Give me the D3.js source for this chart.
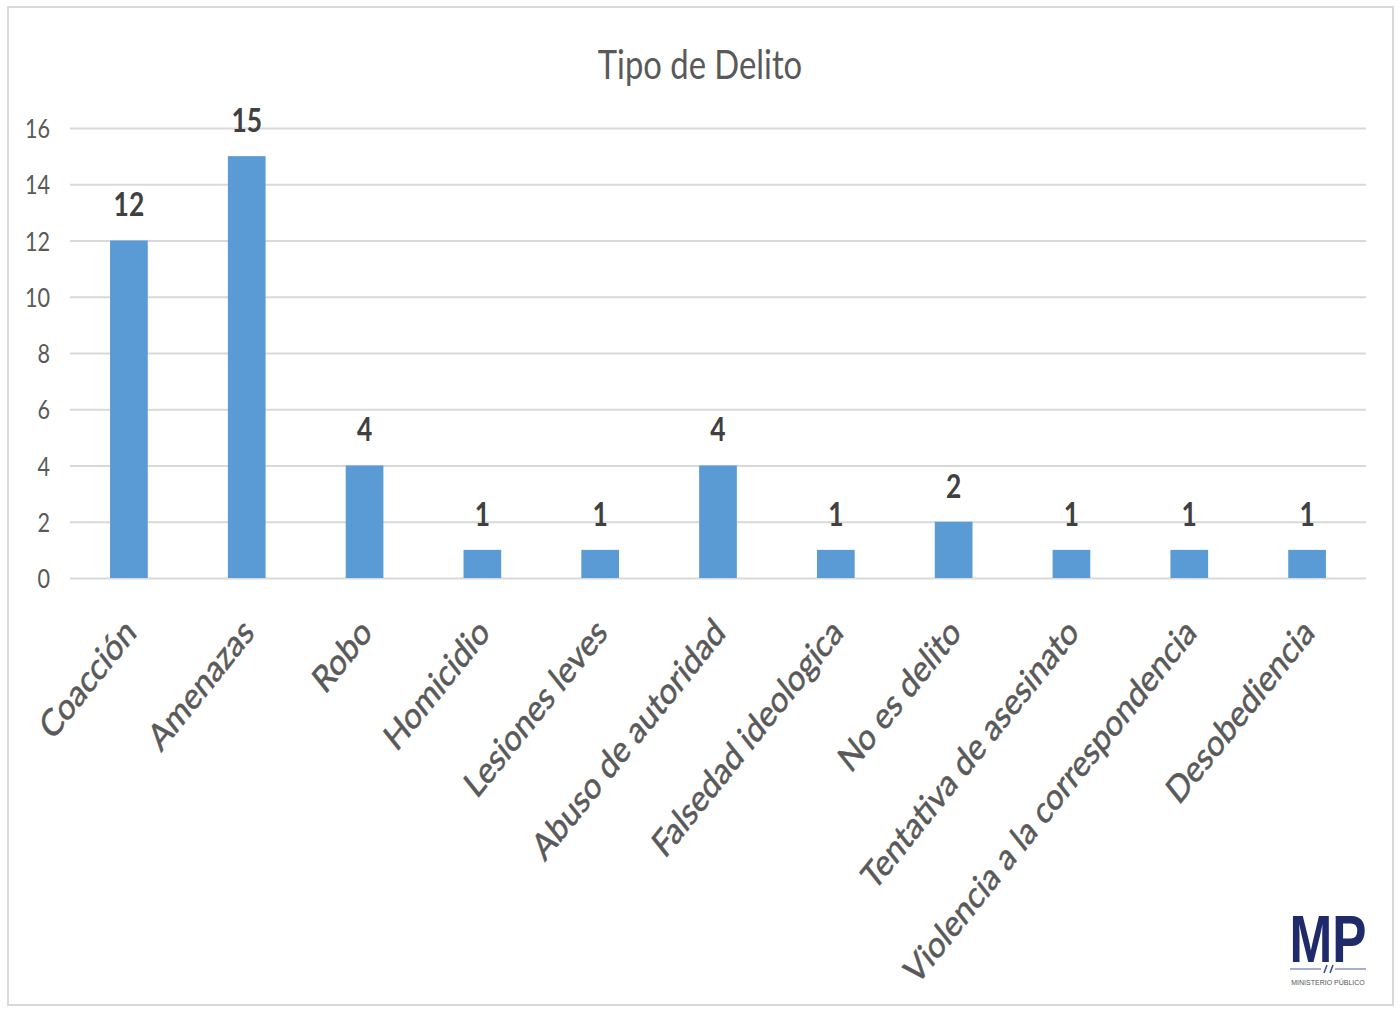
<!DOCTYPE html>
<html><head><meta charset="utf-8">
<script src="https://cdn.jsdelivr.net/npm/d3@7/dist/d3.min.js"></script>
<style>body{margin:0;background:#fff}svg{display:block}</style>
</head><body>
<svg id="chart" width="1400" height="1009"></svg>
<script>
const categories = ["Coacción","Amenazas","Robo","Homicidio","Lesiones leves","Abuso de autoridad","Falsedad ideologica","No es delito","Tentativa de asesinato","Violencia a la correspondencia","Desobediencia"];
const values = [12,15,4,1,1,4,1,2,1,1,1];
const yTicks = [0,2,4,6,8,10,12,14,16];
const title = "Tipo de Delito";

const sx = 0.8; // horizontal squeeze seen in the reference
const svg = d3.select("#chart");
svg.append("rect").attr("x",8).attr("y",7).attr("width",1385).attr("height",998)
  .attr("fill","#fff").attr("stroke","#d9d9d9").attr("stroke-width",2);

const g = svg.append("g").attr("transform",`scale(${sx},1)`);
const X = v => v / sx;

const x = d3.scaleBand().domain(categories).range([X(70), X(1366)]).paddingInner(0.68).paddingOuter(0.34);
const y = d3.scaleLinear().domain([0,16]).range([578,128]);

// gridlines
const yAxis = d3.axisLeft(y).tickValues(yTicks).tickSize(-(X(1366)-X(70))).tickPadding(X(20));
const ya = g.append("g").attr("transform",`translate(${X(70)},0)`).call(yAxis);
ya.select(".domain").remove();
ya.selectAll(".tick line").attr("stroke","#d9d9d9").attr("stroke-width",2);
ya.selectAll(".tick text").attr("fill","#595959").attr("font-family","Lato, sans-serif").attr("font-size",27).attr("dy","0.36em");

// title
g.append("text").attr("x",X(700)).attr("y",79).attr("text-anchor","middle")
  .attr("font-family","Lato, sans-serif").attr("font-size",41).attr("fill","#595959").text(title);

// bars
g.selectAll(".bar").data(values).enter().append("rect")
  .attr("x",(d,i)=>x(categories[i])).attr("width",x.bandwidth())
  .attr("y",d=>y(d)).attr("height",d=>y(0)-y(d)).attr("fill","#5B9BD5");

// value labels
g.selectAll(".val").data(values).enter().append("text")
  .attr("x",(d,i)=>x(categories[i])+x.bandwidth()/2).attr("y",d=>y(d)-24)
  .attr("text-anchor","middle").attr("font-family","Lato, sans-serif").attr("font-weight","bold")
  .attr("font-size",33).attr("fill","#404040").text(d=>d);

// category labels
g.selectAll(".cat").data(categories).enter().append("text")
  .attr("transform",(d)=>`translate(${x(d)+x.bandwidth()/2+X(-6)},616) rotate(-45)`)
  .attr("text-anchor","end").attr("dy","0.7em")
  .attr("font-family","Lato, sans-serif").attr("font-size",37.5).attr("fill","#595959")
  .attr("stroke","#595959").attr("stroke-width",0.6).text(d=>d);

// logo
const logo = svg.append("g").attr("transform","translate(1328,0)");
logo.append("text").attr("x",0).attr("y",962).attr("text-anchor","middle")
  .attr("font-family","Liberation Sans, sans-serif").attr("font-weight","bold").attr("font-size",66)
  .attr("fill","#1f2a6b").attr("textLength",77).attr("lengthAdjust","spacingAndGlyphs").text("MP");
logo.append("line").attr("x1",-38).attr("x2",-7).attr("y1",969).attr("y2",969).attr("stroke","#8a93c0").attr("stroke-width",1.5);
logo.append("line").attr("x1",7).attr("x2",38).attr("y1",969).attr("y2",969).attr("stroke","#8a93c0").attr("stroke-width",1.5);
logo.append("path").attr("d","M-4,973 L-1,965 M2,973 L5,965").attr("stroke","#3b4fa8").attr("stroke-width",1.6).attr("fill","none");
logo.append("text").attr("x",0).attr("y",985).attr("text-anchor","middle").attr("font-family","Liberation Sans, sans-serif")
  .attr("font-size",7).attr("fill","#555").text("MINISTERIO PÚBLICO");
</script>
</body></html>
